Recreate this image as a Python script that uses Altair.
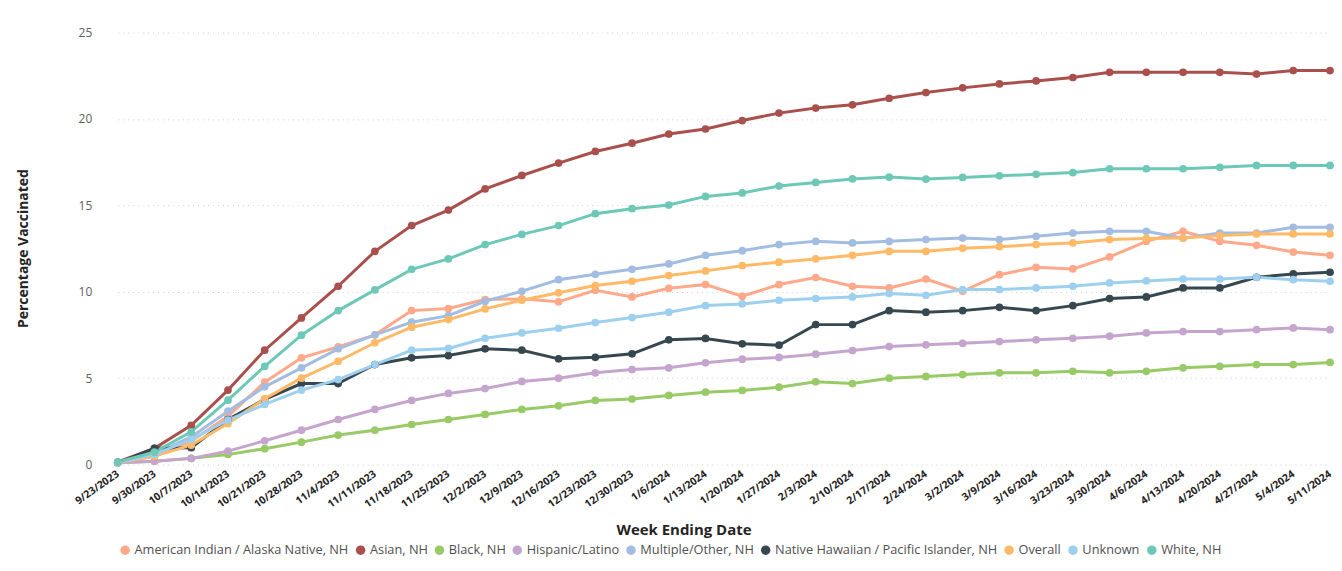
import altair as alt
import pandas as pd

weeks = ["9/23/2023", "9/30/2023", "10/7/2023", "10/14/2023", "10/21/2023", "10/28/2023",
         "11/4/2023", "11/11/2023", "11/18/2023", "11/25/2023", "12/2/2023", "12/9/2023",
         "12/16/2023", "12/23/2023", "12/30/2023", "1/6/2024", "1/13/2024", "1/20/2024",
         "1/27/2024", "2/3/2024", "2/10/2024", "2/17/2024", "2/24/2024", "3/2/2024",
         "3/9/2024", "3/16/2024", "3/23/2024", "3/30/2024", "4/6/2024", "4/13/2024",
         "4/20/2024", "4/27/2024", "5/4/2024", "5/11/2024"]

aian = [0.1, 0.5, 1.35, 2.8, 4.77, 6.18, 6.81, 7.51, 8.91, 9.03, 9.55, 9.59, 9.42, 10.09, 9.7,
        10.2, 10.42, 9.74, 10.42, 10.82, 10.32, 10.22, 10.74, 10.03, 10.99, 11.42, 11.32, 12.02,
        12.92, 13.5, 12.92, 12.69, 12.3, 12.11]
asian = [0.15, 0.94, 2.27, 4.31, 6.62, 8.49, 10.32, 12.34, 13.83, 14.73, 15.95, 16.73, 17.45,
         18.12, 18.6, 19.13, 19.42, 19.91, 20.34, 20.63, 20.82, 21.2, 21.53, 21.8, 22.03, 22.2,
         22.4, 22.7, 22.7, 22.7, 22.7, 22.6, 22.8, 22.8]
black = [0.1, 0.2, 0.36, 0.59, 0.92, 1.3, 1.71, 1.99, 2.32, 2.61, 2.9, 3.19, 3.4, 3.71, 3.79,
         4.0, 4.19, 4.29, 4.48, 4.79, 4.69, 5.0, 5.1, 5.21, 5.31, 5.31, 5.4, 5.31, 5.4, 5.6,
         5.69, 5.79, 5.79, 5.91]
hispanic = [0.1, 0.2, 0.36, 0.78, 1.38, 1.99, 2.61, 3.19, 3.71, 4.12, 4.4, 4.81, 5.0, 5.31, 5.5,
            5.6, 5.89, 6.1, 6.2, 6.39, 6.6, 6.83, 6.93, 7.02, 7.12, 7.22, 7.31, 7.43, 7.62, 7.7,
            7.7, 7.81, 7.91, 7.81]
multiple = [0.1, 0.6, 1.6, 3.09, 4.5, 5.6, 6.7, 7.51, 8.24, 8.62, 9.45, 10.03, 10.7, 11.01, 11.3,
            11.61, 12.11, 12.38, 12.73, 12.92, 12.83, 12.92, 13.02, 13.11, 13.02, 13.21, 13.4,
            13.5, 13.5, 13.1, 13.4, 13.4, 13.73, 13.73]
nhpi = [0.1, 0.94, 0.98, 2.61, 3.77, 4.69, 4.69, 5.79, 6.18, 6.31, 6.7, 6.62, 6.12, 6.21, 6.41,
        7.22, 7.3, 6.99, 6.91, 8.1, 8.1, 8.91, 8.82, 8.91, 9.1, 8.91, 9.2, 9.61, 9.7, 10.22,
        10.22, 10.84, 11.03, 11.13]
overall = [0.1, 0.49, 1.13, 2.38, 3.81, 5.0, 5.98, 7.05, 7.95, 8.39, 9.01, 9.51, 9.94, 10.36,
           10.61, 10.94, 11.21, 11.51, 11.71, 11.9, 12.11, 12.34, 12.34, 12.52, 12.61, 12.73,
           12.83, 13.02, 13.09, 13.11, 13.25, 13.35, 13.35, 13.35]
unknown = [0.1, 0.59, 1.46, 2.57, 3.48, 4.31, 4.92, 5.79, 6.62, 6.72, 7.31, 7.62, 7.89, 8.22,
           8.51, 8.82, 9.2, 9.3, 9.51, 9.61, 9.7, 9.9, 9.8, 10.13, 10.13, 10.22, 10.32, 10.51,
           10.63, 10.74, 10.74, 10.84, 10.7, 10.61]
white = [0.15, 0.72, 1.9, 3.73, 5.69, 7.49, 8.91, 10.11, 11.3, 11.9, 12.73, 13.32, 13.83, 14.52,
         14.81, 15.02, 15.52, 15.72, 16.12, 16.33, 16.53, 16.64, 16.52, 16.62, 16.71, 16.8, 16.9,
         17.12, 17.12, 17.12, 17.2, 17.31, 17.31, 17.31]

series_names = ["American Indian / Alaska Native, NH", "Asian, NH", "Black, NH", "Hispanic/Latino",
                "Multiple/Other, NH", "Native Hawaiian / Pacific Islander, NH", "Overall",
                "Unknown", "White, NH"]
series_values = [aian, asian, black, hispanic, multiple, nhpi, overall, unknown, white]
colors = ["#FFA88A", "#A9504D", "#98CA66", "#C5A5CE", "#A2BDE1", "#37474F", "#FFB967",
          "#9DCFEE", "#6DC8B7"]

rows = []
for name, vals in zip(series_names, series_values):
    for w, v in zip(weeks, vals):
        rows.append({"week": w, "group": name, "value": v})
df = pd.DataFrame(rows)

FONT = "Open Sans"

x = alt.X("week:N", sort=weeks,
          scale=alt.Scale(type="point", padding=0),
          axis=alt.Axis(title="Week Ending Date", labelAngle=-35, labelFontWeight="bold",
                        labelFontSize=10.5, labelColor="#252423", labelPadding=4,
                        labelOffset=-3,
                        ticks=False, domain=False, grid=False,
                        titleFontSize=15, titleFontWeight="bold", titleColor="#252423",
                        titleX=567, titleY=65, titleBaseline="middle", titleAlign="center"))
y = alt.Y("value:Q",
          scale=alt.Scale(domain=[0, 25], nice=False),
          axis=alt.Axis(title="Percentage Vaccinated", values=[0, 5, 10, 15, 20, 25],
                        labelFontSize=12, labelColor="#605E5C", labelPadding=26,
                        ticks=False, domain=False, grid=True, gridColor="#CFCFCF",
                        gridDash=[1, 4], gridWidth=1,
                        titleFontSize=14, titleFontWeight="bold", titleColor="#252423",
                        titleX=-94, titleY=216, titleBaseline="middle", titleAlign="center",
                        titleAngle=-90))
color = alt.Color("group:N", sort=series_names,
                  scale=alt.Scale(domain=series_names, range=colors),
                  legend=alt.Legend(title=None, orient="none", direction="horizontal",
                                    columns=9, legendX=1, legendY=512,
                                    symbolType="circle", symbolSize=90, symbolStrokeWidth=0,
                                    labelFontSize=12.8, labelColor="#505050", labelOffset=3,
                                    labelLimit=400, columnPadding=5, symbolOpacity=1))

line = alt.Chart(df).mark_line(strokeWidth=3).encode(x=x, y=y, color=color)
pts = alt.Chart(df).mark_circle(size=60, opacity=1).encode(x=x, y=y, color=color)

chart = alt.layer(line, pts).properties(
    width=1215, height=433,
    autosize=alt.AutoSizeParams(type="none"),
    padding={"left": 110, "top": 24, "right": 4, "bottom": 100},
).configure(font=FONT).configure_view(stroke=None)

chart.save("out.html", embed_options={"renderer": "svg", "actions": False})
